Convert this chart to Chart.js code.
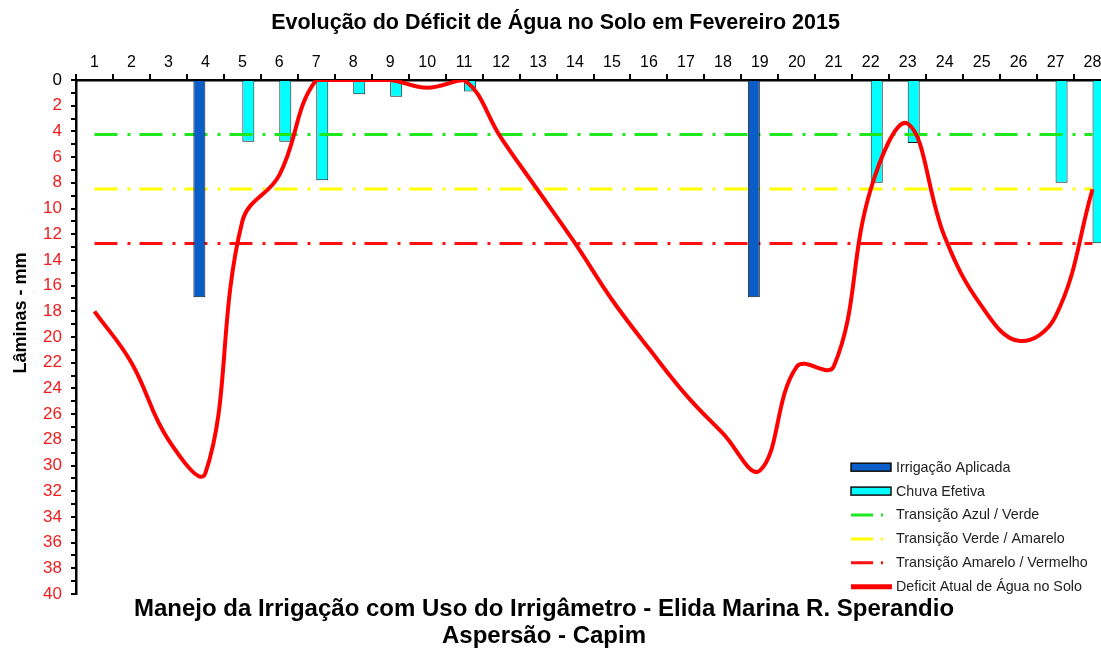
<!DOCTYPE html>
<html>
<head>
<meta charset="utf-8">
<script src="https://cdn.jsdelivr.net/npm/chart.js@4.4.1/dist/chart.umd.min.js"></script>
<style>
  html, body { margin: 0; padding: 0; background: #fff; overflow: hidden; }
  #wrap { width: 1115px; height: 652px; }
</style>
</head>
<body>
<div id="wrap"><canvas id="grafico" width="1115" height="652"></canvas></div>
<script>
// dias de fevereiro
var dias = ['1', '2', '3', '4', '5', '6', '7', '8', '9', '10', '11', '12', '13', '14',
            '15', '16', '17', '18', '19', '20', '21', '22', '23', '24', '25', '26', '27', '28'];

// laminas em mm
var irrigacao = [null, null, null, 16.9, null, null, null, null, null, null, null, null, null, null,
                 null, null, null, null, 16.9, null, null, null, null, null, null, null, null, null];
var chuva = [null, null, null, null, 4.8, 4.8, 7.8, 1.1, 1.3, null, 0.9, null, null, null,
             null, null, null, null, null, null, null, 8.0, 4.9, null, null, null, 8.0, 12.7];
var deficit = [18, 22, 28, 30.6, 11, 7.4, 0, 0, 0, 0.6, 0, 4.5, 8.6, 12.7,
               17.1, 20.9, 24.5, 27.5, 30.4, 22.3, 22.3, 8.5, 3.4, 12.2, 17.6, 20.3, 18.4, 8.5];

// limites de transicao
var azulVerde = 4.24;
var verdeAmarelo = 8.48;
var amareloVermelho = 12.72;

var tituloY = 'Lâminas - mm';
var rodape = ['Manejo da Irrigação com Uso do Irrigâmetro - Elida Marina R. Sperandio', 'Aspersão - Capim'];

var fonte = "'Liberation Sans', Arial, sans-serif";
var tracoPonto = [23, 10, 3, 9];

function limite(v) {
    return [{x: dias[0], y: v}, {x: dias[dias.length - 1], y: v}];
}

// legenda desenhada dentro da area do grafico
var legendaPlugin = {
    id: 'legenda',
    afterDraw: function(chart) {
        var ctx = chart.ctx;
        var area = chart.chartArea;
        var x0 = area.right - 260;
        var passo = 23.9;
        var ds = chart.data.datasets;
        var y = area.bottom - 7.3 - passo * (ds.length - 1);
        ctx.save();
        ds.forEach(function(d) {
            if (d.type === 'bar') {
                ctx.fillStyle = d.backgroundColor;
                ctx.strokeStyle = '#111';
                ctx.lineWidth = 1.5;
                ctx.fillRect(x0, y - 4, 40, 8);
                ctx.strokeRect(x0, y - 4, 40, 8);
            } else if (d.borderDash) {
                ctx.strokeStyle = d.borderColor;
                ctx.lineWidth = 3;
                ctx.setLineDash([22, 8, 2, 100]);
                ctx.beginPath();
                ctx.moveTo(x0, y);
                ctx.lineTo(x0 + 40, y);
                ctx.stroke();
                ctx.setLineDash([]);
            } else {
                ctx.strokeStyle = d.borderColor;
                ctx.lineWidth = 5;
                ctx.beginPath();
                ctx.moveTo(x0, y);
                ctx.lineTo(x0 + 41, y);
                ctx.stroke();
            }
            ctx.fillStyle = '#222';
            ctx.font = '14.3px ' + fonte;
            ctx.textBaseline = 'middle';
            ctx.textAlign = 'left';
            ctx.fillText(d.label, x0 + 45, y + 0.5);
            y += passo;
        });
        ctx.restore();
    }
};

// titulo do eixo y e titulo inferior em duas linhas
var textosPlugin = {
    id: 'textos',
    afterDraw: function(chart) {
        var ctx = chart.ctx;
        var area = chart.chartArea;
        ctx.save();
        ctx.fillStyle = '#000';
        ctx.textAlign = 'center';
        ctx.textBaseline = 'middle';

        ctx.save();
        ctx.translate(21, (area.top + area.bottom) / 2 - 24);
        ctx.rotate(-Math.PI / 2);
        ctx.font = 'bold 18px ' + fonte;
        ctx.fillText(tituloY, 0, 0);
        ctx.restore();

        ctx.font = 'bold 24px ' + fonte;
        ctx.fillText(rodape[0], 544, area.bottom + 15);
        ctx.fillText(rodape[1], 544, area.bottom + 42);
        ctx.restore();
    }
};

var chart = new Chart(document.getElementById('grafico'), {
    type: 'bar',
    data: {
        labels: dias,
        datasets: [{
            type: 'bar',
            label: 'Irrigação Aplicada',
            data: irrigacao,
            backgroundColor: '#0a5cc6',
            borderColor: '#1a1a1a',
            borderWidth: 1,
            order: 1
        }, {
            type: 'bar',
            label: 'Chuva Efetiva',
            data: chuva,
            backgroundColor: '#00ffff',
            borderColor: '#1a1a1a',
            borderWidth: 1,
            order: 3
        }, {
            type: 'line',
            label: 'Transição Azul / Verde',
            data: limite(azulVerde),
            borderColor: '#1de81d',
            borderWidth: 3,
            borderDash: tracoPonto,
            pointRadius: 0,
            order: 2
        }, {
            type: 'line',
            label: 'Transição Verde / Amarelo',
            data: limite(verdeAmarelo),
            borderColor: '#ffff00',
            borderWidth: 3,
            borderDash: tracoPonto,
            pointRadius: 0,
            order: 2
        }, {
            type: 'line',
            label: 'Transição Amarelo / Vermelho',
            data: limite(amareloVermelho),
            borderColor: '#ff1010',
            borderWidth: 3,
            borderDash: tracoPonto,
            pointRadius: 0,
            order: 2
        }, {
            type: 'line',
            label: 'Deficit Atual de Água no Solo',
            data: deficit,
            borderColor: '#ff0000',
            borderWidth: 4,
            tension: 0.4,
            pointRadius: 0,
            order: 0
        }]
    },
    options: {
        responsive: false,
        animation: false,
        devicePixelRatio: 1,
        layout: { padding: { left: 0, right: 4, top: 0, bottom: 58 } },
        datasets: {
            bar: { categoryPercentage: 0.65, barPercentage: 1 }
        },
        plugins: {
            legend: { display: false },
            tooltip: { enabled: false },
            title: {
                display: true,
                text: 'Evolução do Déficit de Água no Solo em Fevereiro 2015',
                color: '#000',
                font: { family: fonte, size: 21.5, weight: 'bold' },
                padding: { top: 10, bottom: 6 }
            }
        },
        scales: {
            x: {
                position: 'top',
                offset: true,
                grid: { drawOnChartArea: false, offset: true, tickLength: 6, color: '#000', lineWidth: 2 },
                border: { display: true, color: '#000', width: 2.5 },
                ticks: { color: '#000', font: { family: fonte, size: 16 }, padding: 2, maxRotation: 0, autoSkip: false },
                afterFit: function(scale) { scale.height = 80 - 41.8; }
            },
            y: {
                reverse: true,
                min: 0,
                max: 40,
                grid: { drawOnChartArea: false, tickLength: 5, color: '#000', lineWidth: 2 },
                border: { display: true, color: '#000', width: 2.5 },
                ticks: {
                    stepSize: 1,
                    autoSkip: false,
                    padding: 9,
                    font: { family: fonte, size: 17 },
                    color: function(c) { return c.tick && c.tick.value === 0 ? '#000' : '#f01c1c'; },
                    callback: function(v) { return v % 2 === 0 ? v : ''; }
                },
                afterFit: function(scale) { scale.width = 76; }
            }
        }
    },
    plugins: [legendaPlugin, textosPlugin]
});
</script>
</body>
</html>
